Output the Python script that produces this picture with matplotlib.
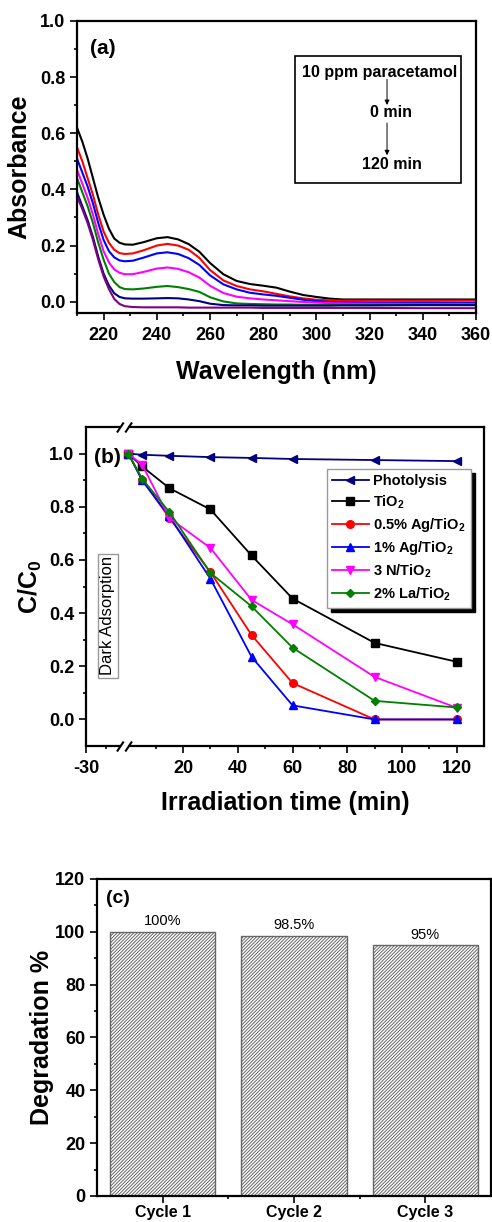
"""Paracetamol photodegradation figure: UV-vis spectra, kinetics, recycling bars."""

import numpy as np
import matplotlib.pyplot as plt
from matplotlib.path import Path
from matplotlib.ticker import MultipleLocator, FixedLocator

plt.rcParams['font.family'] = ['Liberation Sans', 'DejaVu Sans']
plt.rcParams['mathtext.fontset'] = 'custom'
plt.rcParams['mathtext.rm'] = 'Liberation Sans'
plt.rcParams['mathtext.bf'] = 'Liberation Sans:bold'
plt.rcParams['hatch.linewidth'] = 0.7

# ---- (a) UV-vis spectra, 0 -> 120 min ----
wavelength = [210, 212, 214, 216, 218, 220, 222, 224, 226, 228, 231, 235, 240, 244,
              248, 252, 256, 260, 265, 270, 275, 280, 285, 290, 295, 300, 305, 310,
              320, 340, 360]
abs_1 = [.62, .57, .51, .44, .37, .31, .26, .225, .21, .204, .203, .212, .226, .230,
         .222, .205, .178, .138, .098, .074, .063, .057, .050, .036, .024, .017, .011,
         .008, .008, .008, .008]
abs_2 = [.55, .50, .44, .38, .31, .25, .21, .185, .173, .170, .172, .183, .200, .206,
         .200, .185, .156, .113, .076, .056, .044, .037, .028, .019, .012, .007, .005,
         .004, .004, .004, .004]
abs_3 = [.51, .46, .41, .35, .28, .22, .18, .158, .147, .144, .146, .157, .172, .176,
         .170, .155, .131, .094, .062, .044, .032, .026, .021, .014, .007, .002, -.001,
         -.002, -.003, -.003, -.004]
abs_4 = [.47, .42, .37, .31, .24, .18, .14, .115, .103, .098, .098, .106, .118, .122,
         .117, .105, .086, .057, .031, .018, .012, .008, .005, .002, -.001, -.003, -.005,
         -.006, -.007, -.008, -.008]
abs_5 = [.44, .39, .34, .28, .21, .15, .10, .07, .052, .045, .044, .047, .053, .056,
         .052, .045, .035, .016, .001, -.006, -.008, -.009, -.010, -.010, -.011, -.011,
         -.011, -.012, -.012, -.012, -.012]
abs_6 = [.39, .34, .29, .23, .16, .10, .058, .03, .017, .012, .011, .011, .012, .013,
         .012, .008, .002, -.007, -.012, -.013, -.013, -.014, -.014, -.014, -.014, -.014,
         -.014, -.013, -.013, -.012, -.012]
abs_7 = [.375, .33, .28, .22, .15, .09, .045, .01, -.008, -.016, -.019, -.020, -.020,
         -.020, -.020, -.021, -.021, -.021, -.021, -.021, -.021, -.022, -.022, -.022,
         -.022, -.022, -.022, -.022, -.022, -.023, -.023]
spectra = [abs_1, abs_2, abs_3, abs_4, abs_5, abs_6, abs_7]
spec_colors = ['black', 'red', 'blue', 'magenta', '#008000', '#000080', '#800080']

# ---- (b) C/C0 vs irradiation time ----
time_min = [0, 5, 15, 30, 45, 60, 90, 120]
photolysis = [1.0, 0.996, 0.992, 0.987, 0.984, 0.980, 0.976, 0.972]
tio2 = [1.0, 0.952, 0.870, 0.790, 0.617, 0.455, 0.288, 0.217]
ag05 = [1.0, 0.902, 0.758, 0.554, 0.318, 0.137, 0.0, 0.0]
ag1 = [1.0, 0.900, 0.764, 0.529, 0.236, 0.053, 0.0, 0.0]
n3 = [1.0, 0.959, 0.758, 0.645, 0.450, 0.358, 0.160, 0.044]
la2 = [1.0, 0.906, 0.780, 0.551, 0.426, 0.270, 0.070, 0.045]
series_b = [
    ('Photolysis', photolysis, '#000080', '<'),
    (r'TiO$_\mathbf{2}$', tio2, 'black', 's'),
    (r'0.5% Ag/TiO$_\mathbf{2}$', ag05, 'red', 'o'),
    (r'1% Ag/TiO$_\mathbf{2}$', ag1, 'blue', '^'),
    (r'3 N/TiO$_\mathbf{2}$', n3, 'magenta', 'v'),
    (r'2% La/TiO$_\mathbf{2}$', la2, '#008000', 'D'),
]

# ---- (c) recycling ----
cycles = ['Cycle 1', 'Cycle 2', 'Cycle 3']
degradation = [100, 98.5, 95]
degradation_labels = ['100%', '98.5%', '95%']

TICK_FS = 13
LABEL_FS = 18


def style_axes(ax):
    for s in ax.spines.values():
        s.set_linewidth(1.6)
    ax.tick_params(which='both', direction='out', width=1.2, top=False, right=False)
    ax.tick_params(which='major', length=4.8, labelsize=TICK_FS)
    ax.tick_params(which='minor', length=2.5)
    for lab in ax.get_xticklabels() + ax.get_yticklabels():
        lab.set_fontweight('bold')


fig = plt.figure(figsize=(4.92, 12.22), dpi=100)

# ================= (a) =================
ax1 = fig.add_axes([0.1565, 0.7439, 0.811, 0.2390])
for vals, c in zip(spectra, spec_colors):
    ax1.plot(wavelength, vals, color=c, lw=1.5)
ax1.set_xlim(210, 360)
ax1.set_ylim(-0.04, 1.0)
ax1.xaxis.set_major_locator(MultipleLocator(20))
ax1.xaxis.set_minor_locator(MultipleLocator(10))
ax1.yaxis.set_major_locator(MultipleLocator(0.2))
ax1.yaxis.set_minor_locator(MultipleLocator(0.1))
ax1.yaxis.set_major_formatter(lambda v, p: f'{v:.1f}')
ax1.tick_params(axis='x', which='major', pad=5)
style_axes(ax1)
ax1.set_xlabel('Wavelength (nm)', fontsize=LABEL_FS, fontweight='bold', labelpad=12)
ax1.set_ylabel('Absorbance', fontsize=LABEL_FS, fontweight='bold', labelpad=6)
ax1.text(0.065, 0.904, '(a)', transform=ax1.transAxes, fontsize=15,
         fontweight='bold', ha='center', va='center')

# inset annotation box
box = plt.Rectangle((0.546, 0.445), 0.416, 0.435, transform=ax1.transAxes,
                    fill=False, ec='black', lw=1.2)
ax1.add_patch(box)
ax1.text(0.759, 0.825, '10 ppm paracetamol', transform=ax1.transAxes,
         fontsize=11.5, fontweight='bold', ha='center', va='center')
ax1.text(0.787, 0.685, '0 min', transform=ax1.transAxes,
         fontsize=11.5, fontweight='bold', ha='center', va='center')
ax1.text(0.790, 0.507, '120 min', transform=ax1.transAxes,
         fontsize=11.5, fontweight='bold', ha='center', va='center')
arrow_kw = dict(arrowstyle='-|>', lw=0.7, color='black', mutation_scale=7,
                shrinkA=0, shrinkB=0)
ax1.annotate('', xy=(0.777, 0.712), xytext=(0.777, 0.800),
             xycoords='axes fraction', arrowprops=arrow_kw)
ax1.annotate('', xy=(0.777, 0.540), xytext=(0.777, 0.650),
             xycoords='axes fraction', arrowprops=arrow_kw)

# ================= (b) =================
ax2 = fig.add_axes([0.1748, 0.3895, 0.809, 0.2610])
brk = -1.5


def fwd(x):
    x = np.asarray(x, float)
    return np.where(x < brk, brk + (x - brk) * 14.0 / 28.5, x)


def inv(y):
    y = np.asarray(y, float)
    return np.where(y < brk, brk + (y - brk) * 28.5 / 14.0, y)


ax2.set_xscale('function', functions=(fwd, inv))
for label, vals, c, m in series_b:
    ax2.plot(time_min, vals, color=c, marker=m, lw=1.3,
             ms=5.5 if m != 'D' else 4.5, label=label)
ax2.set_xlim(-30, 130)
ax2.set_ylim(-0.1, 1.1)
ax2.xaxis.set_major_locator(FixedLocator([-30, 20, 40, 60, 80, 100, 120]))
ax2.xaxis.set_minor_locator(FixedLocator([-15, 10, 30, 50, 70, 90, 110]))
ax2.xaxis.set_major_formatter(lambda v, p: f'{v:.0f}')
ax2.yaxis.set_major_locator(FixedLocator([0, 0.2, 0.4, 0.6, 0.8, 1.0]))
ax2.yaxis.set_minor_locator(FixedLocator([0.1, 0.3, 0.5, 0.7, 0.9]))
ax2.yaxis.set_major_formatter(lambda v, p: f'{v:.1f}')
ax2.tick_params(axis='x', which='major', pad=5)
style_axes(ax2)
ax2.set_xlabel('Irradiation time (min)', fontsize=LABEL_FS, fontweight='bold',
               labelpad=10)
ax2.set_ylabel(r'C/C$_\mathbf{0}$', fontsize=LABEL_FS, fontweight='bold', labelpad=4)
ax2.text(0.055, 0.906, '(b)', transform=ax2.transAxes, fontsize=15,
         fontweight='bold', ha='center', va='center')
ax2.text(0.055, 0.408, 'Dark Adsorption', transform=ax2.transAxes, rotation=90,
         fontsize=12, ha='center', va='center',
         bbox=dict(boxstyle='square,pad=0.15', fc='white', ec='0.6', lw=1))

# axis break marks
slash = Path([(-7.5, -5), (-0.8, 5), (0.8, -5), (7.5, 5)],
             [Path.MOVETO, Path.LINETO, Path.MOVETO, Path.LINETO])
xt = ax2.get_xaxis_transform()
ax2.plot([brk, brk], [0, 1], transform=xt, ls='none', marker='s', ms=5,
         mfc='white', mec='white', clip_on=False, zorder=5)
ax2.plot([brk, brk], [0, 1], transform=xt, ls='none', marker=slash, ms=10.8,
         mec='black', mew=1.5, clip_on=False, zorder=6)

leg = ax2.legend(loc='upper right', bbox_to_anchor=(0.967, 0.868),
                 prop={'weight': 'bold', 'size': 10.5}, handlelength=2.5,
                 handletextpad=0.3, labelspacing=0.35, borderpad=0.35,
                 borderaxespad=0, fancybox=False, framealpha=1,
                 shadow={'ox': 3, 'oy': -3, 'color': 'black', 'alpha': 1})
leg.get_frame().set_edgecolor('0.6')
leg.get_frame().set_linewidth(1.0)

# ================= (c) =================
ax3 = fig.add_axes([0.1972, 0.0213, 0.8008, 0.2594])
x = np.arange(len(cycles))
bars = ax3.bar(x, degradation, width=0.8, color='white', edgecolor='#666666',
               hatch='//////////', lw=1.0)
ax3.bar_label(bars, labels=degradation_labels, padding=2.5, fontsize=10.5)
ax3.set_xlim(-0.5, 2.5)
ax3.set_ylim(0, 120)
ax3.set_xticks(x, cycles)
ax3.xaxis.set_minor_locator(FixedLocator([0.5, 1.5]))
ax3.yaxis.set_major_locator(MultipleLocator(20))
ax3.yaxis.set_minor_locator(MultipleLocator(10))
style_axes(ax3)
ax3.tick_params(axis='x', which='major', pad=2, labelsize=11.5)
ax3.set_ylabel('Degradation %', fontsize=LABEL_FS, fontweight='bold', labelpad=1)
ax3.text(0.053, 0.94, '(c)', transform=ax3.transAxes, fontsize=14,
         fontweight='bold', ha='center', va='center')

fig.savefig('out.png', dpi=100)
